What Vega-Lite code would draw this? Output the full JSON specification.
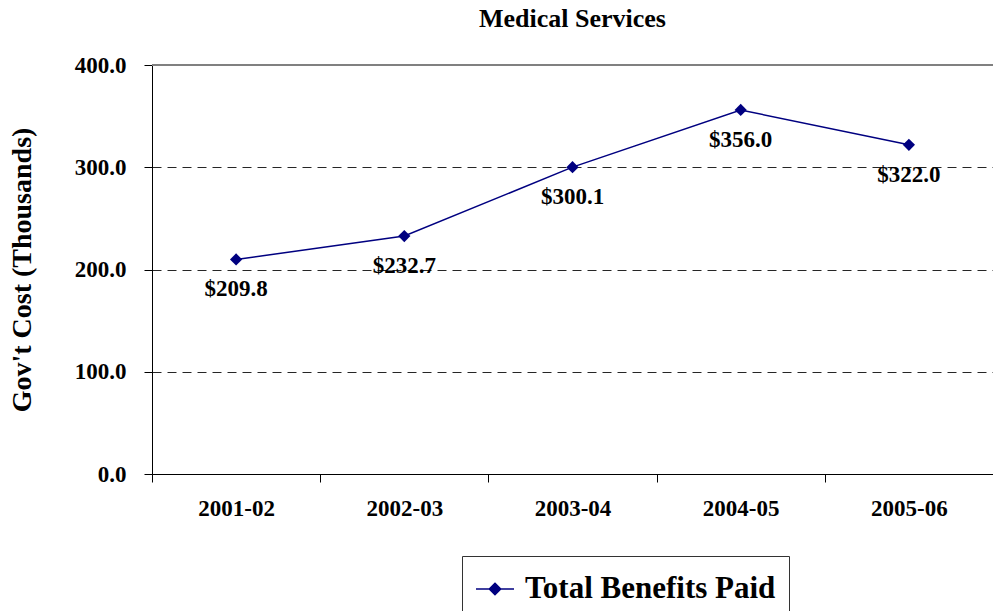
{
  "$schema": "https://vega.github.io/schema/vega-lite/v6.json",
  "autosize": "none",
  "width": 841,
  "height": 409,
  "padding": {"left": 152, "top": 65, "right": 0, "bottom": 137},
  "background": "white",
  "title": {
    "text": "Medical Services",
    "font": "Liberation Serif",
    "fontSize": 26,
    "fontWeight": "bold",
    "color": "black",
    "anchor": "middle",
    "offset": 22
  },
  "data": {
    "values": [
      {"year": "2001-02", "value": 209.8, "series": "Total Benefits Paid"},
      {"year": "2002-03", "value": 232.7, "series": "Total Benefits Paid"},
      {"year": "2003-04", "value": 300.1, "series": "Total Benefits Paid"},
      {"year": "2004-05", "value": 356.0, "series": "Total Benefits Paid"},
      {"year": "2005-06", "value": 322.0, "series": "Total Benefits Paid"}
    ]
  },
  "encoding": {
    "x": {
      "field": "year",
      "type": "ordinal",
      "scale": {"type": "band", "paddingInner": 0, "paddingOuter": 0},
      "axis": {
        "title": null,
        "labelAngle": 0,
        "labelFont": "Liberation Serif",
        "labelFontSize": 23,
        "labelFontWeight": "bold",
        "labelColor": "black",
        "labelPadding": 15,
        "tickBand": "extent",
        "tickSize": 8,
        "tickColor": "black",
        "domainColor": "black",
        "grid": false
      }
    },
    "y": {
      "field": "value",
      "type": "quantitative",
      "scale": {"domain": [0, 400], "nice": false},
      "axis": {
        "title": "Gov't Cost (Thousands)",
        "titleFont": "Liberation Serif",
        "titleFontSize": 28,
        "titleFontWeight": "bold",
        "titleColor": "black",
        "titlePadding": 38,
        "values": [0, 100, 200, 300, 400],
        "format": ".1f",
        "labelFont": "Liberation Serif",
        "labelFontSize": 23,
        "labelFontWeight": "bold",
        "labelColor": "black",
        "labelPadding": 18,
        "tickSize": 8,
        "tickColor": "black",
        "domainColor": "black",
        "grid": true,
        "gridColor": "black",
        "gridDash": [9, 6],
        "gridOpacity": 0.85
      }
    }
  },
  "layer": [
    {
      "mark": {"type": "rule", "color": "#808080", "strokeWidth": 1.5},
      "encoding": {"y": {"datum": 400}, "x": null}
    },
    {
      "mark": {"type": "line", "strokeWidth": 1.5},
      "encoding": {
        "color": {
          "field": "series",
          "type": "nominal",
          "scale": {"range": ["#000080"]},
          "legend": {
            "title": null,
            "orient": "none",
            "legendX": 310,
            "legendY": 491,
            "direction": "horizontal",
            "strokeColor": "#333333",
            "fillColor": "white",
            "padding": 13,
            "labelFont": "Liberation Serif",
            "labelFontSize": 31,
            "labelFontWeight": "bold",
            "labelColor": "black",
            "labelOffset": 10,
            "labelLimit": 0,
            "symbolType": "M-1,0L1,0M0,-0.3L0.3,0L0,0.3L-0.3,0Z",
            "symbolSize": 1444,
            "symbolStrokeWidth": 1.5,
            "symbolFillColor": "#000080",
            "symbolStrokeColor": "#000080"
          }
        }
      }
    },
    {
      "mark": {"type": "point", "shape": "diamond", "filled": true, "size": 150, "color": "#000080", "opacity": 1}
    },
    {
      "mark": {
        "type": "text",
        "dy": 30,
        "font": "Liberation Serif",
        "fontSize": 23,
        "fontWeight": "bold",
        "color": "black"
      },
      "encoding": {"text": {"field": "value", "type": "quantitative", "format": "$.1f"}}
    }
  ]
}
